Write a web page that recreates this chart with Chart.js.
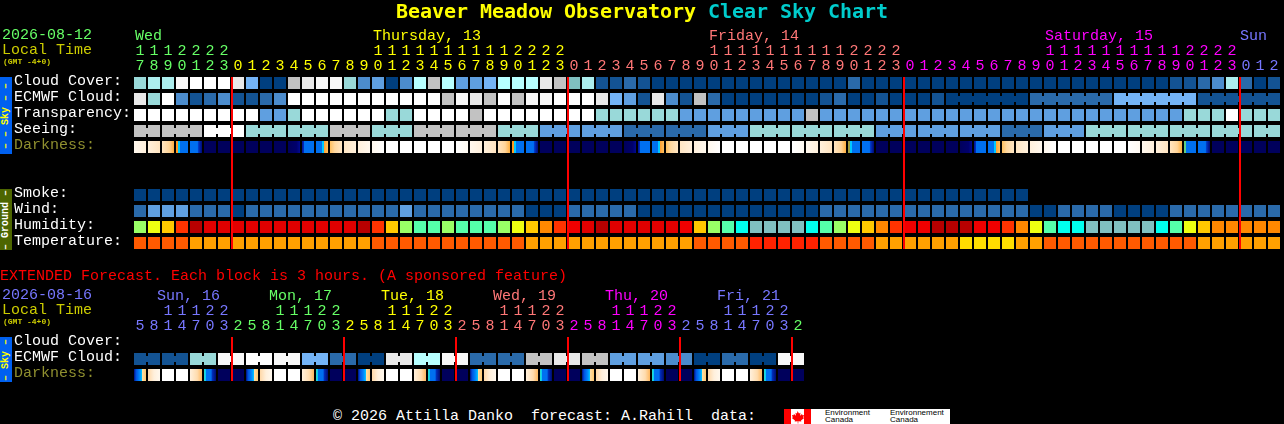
<!DOCTYPE html>
<html><head><meta charset="utf-8">
<script src="https://cdn.jsdelivr.net/npm/chart.js@4"></script>
<style>
html,body{margin:0;padding:0;background:#000;width:1284px;height:424px;overflow:hidden}
canvas{position:absolute;left:0}
.t{position:absolute;white-space:pre;font:15px/15px "Liberation Mono",monospace;letter-spacing:0}
.title{font:bold 20px/20px "DejaVu Sans Mono",monospace;letter-spacing:-0.04px}
.tab{position:absolute;left:0;width:12px;color:#ffff00;font:bold 10px/12px "Liberation Mono",monospace;text-align:center;writing-mode:vertical-rl;transform:rotate(180deg);white-space:pre}
.gmt{font:bold 8px/8px "Liberation Mono",monospace;color:#cccc00}
#ec{position:absolute;left:784px;top:409px;width:166px;height:15px;background:#fff;overflow:hidden}
#ec span{position:absolute;color:#000;font:8px/7px "Liberation Sans",sans-serif;white-space:pre}
</style></head><body>
<canvas id="main" width="1284" height="270" style="top:0"></canvas>
<canvas id="ext" width="1284" height="125" style="top:270px"></canvas>

<div class="t title" style="left:396px;top:1px;color:#ffff00">Beaver Meadow Observatory <span style="color:#00cccc">Clear Sky Chart</span></div>
<div class="t" style="left:2px;top:28px;color:#66ff66">2026-08-12</div>
<div class="t" style="left:2px;top:43px;color:#cccc00">Local Time</div>
<div class="t gmt" style="left:3px;top:58px">(GMT -4+0)</div>
<div class="tab" style="top:77px;height:77px;background:#0060f0">– – Sky – –</div>
<div class="tab" style="top:189px;height:61px;background:#4d6600;color:#fff">– Ground –</div>
<div class="t" style="left:0;top:269px;color:#ff0000">EXTENDED Forecast. Each block is 3 hours. (A sponsored feature)</div>
<div class="t" style="left:2px;top:288px;color:#7777ff">2026-08-16</div>
<div class="t" style="left:2px;top:303px;color:#cccc00">Local Time</div>
<div class="t gmt" style="left:3px;top:318px">(GMT -4+0)</div>
<div class="tab" style="top:337px;height:45px;background:#0060f0">– Sky –</div>
<div class="t" style="left:333px;top:409px;color:#fff">© 2026 Attilla Danko  forecast: A.Rahill  data:</div>
<div id="ec">
<svg width="27" height="15" style="position:absolute;left:0;top:0"><rect width="7" height="15" fill="#f00"/><rect x="20" width="7" height="15" fill="#f00"/><path d="M13.5 2l1.5 2.5 1.5-.7-.5 3 2-1.8.5 1.3 1.5-.3-.8 2.4 1 .6-3.2 2.4.3 1.2-3-.4v2.3h-.6v-2.3l-3 .4.3-1.2-3.2-2.4 1-.6-.8-2.4 1.5.3.5-1.3 2 1.8-.5-3 1.5.7z" fill="#f00"/></svg>
<span style="left:41px;top:0">Environment
Canada</span><span style="left:106px;top:0">Environnement
Canada</span></div>

<script>
// ---- categories ----
const mainHours = [17,18,19,20,21,22,23,
 0,1,2,3,4,5,6,7,8,9,10,11,12,13,14,15,16,17,18,19,20,21,22,23,
 0,1,2,3,4,5,6,7,8,9,10,11,12,13,14,15,16,17,18,19,20,21,22,23,
 0,1,2,3,4,5,6,7,8,9,10,11,12,13,14,15,16,17,18,19,20,21,22,23,
 0,1,2];
const extHours = [5,8,11,14,17,20,23,
 2,5,8,11,14,17,20,23, 2,5,8,11,14,17,20,23, 2,5,8,11,14,17,20,23,
 2,5,8,11,14,17,20,23, 2,5,8,11,14,17,20,23, 2];
const mainDayEnds = [7,31,55,79,82];
const mainDayColors = ['#66ff66','#ffff00','#ff7777','#ff00ff','#7777ff'];
const extDayEnds = [7,15,23,31,39,47,48];
const extDayColors = ['#7777ff','#66ff66','#ffff00','#ff7777','#ff00ff','#7777ff','#66ff66'];
const mainDayLabels = [['Wed',0,1],['Thursday, 13',17,1],['Friday, 14',41,1],['Saturday, 15',65,1],['Sun',79,0]];
const extDayLabels = [['Sun, 16',1,9],['Mon, 17',9,9],['Tue, 18',17,9],['Wed, 19',25,9],['Thu, 20',33,9],['Fri, 21',41,9]];
const mainRowLabels = ['Cloud Cover:','ECMWF Cloud:','Transparency:','Seeing:','Darkness:','','','Smoke:','Wind:','Humidity:','Temperature:'];
const extRowLabels = ['Cloud Cover:','ECMWF Cloud:','Darkness:'];
const mainMidnights = [7,31,55,79];
const extMidnights = [7,15,23,31,39,47];

// ---- series (sky condition level per block, see cloudPalette) ----
const cloudCover = [7,8,8,12,13,13,13,11,5,0,0,10,11,12,12,7,3,4,0,3,9,10,9,4,4,5,9,9,9,11,10,6,8,1,1,2,1,0,0,0,0,0,0,0,0,0,0,0,0,0,0,2,
 0,0,0,0,0,0,0,0,0,0,0,0,0,0,0,0,0,0,0,0,0,0,1,1,2,3,8,2,0,1];
const ecmwfCloud = [11,7,13,3,1,2,3,1,1,2,3,13,13,13,13,13,13,13,13,13,13,13,10,12,11,10,13,10,12,12,13,13,13,11,5,4,1,11,3,1,10,2,0,0,0,0,0,0,0,1,2,0,
 0,1,0,0,0,1,0,0,0,0,0,0,2,2,2,2,2,2,5,5,5,5,5,5,1,1,1,1,1,1];
const ecmwfSpans = [[58,63],[64,69],[70,75],[76,81]];
const transparency = [13,13,13,13,13,13,13,13,13,4,4,7,13,13,13,13,13,13,7,7,13,13,13,13,10,13,13,13,13,13,13,13,13,7,7,7,7,7,7,4,4,4,4,4,4,4,4,4,10,
 4,4,4,4,4,4,4,4,4,4,4,4,4,4,4,4,4,4,4,4,4,4,4,4,4,4,7,7,7,13,7,7,7];
const seeing = [10,10, 10,10,10, 13,13,13, 7,7,7, 7,7,7, 10,10,10, 7,7,7, 10,10,10, 10,10,10, 7,7,7, 4,4,4, 4,4,4, 2,2,2, 2,2,2, 4,4,4, 7,7,7, 7,7,7, 7,7,7,
 4,4,4, 4,4,4, 4,4,4, 2,2,2, 4,4,4, 7,7,7, 7,7,7, 7,7,7, 7,7,7, 7,7];
const seeingSpans = [[0,1],[2,4],[5,7],[8,10],[11,13],[14,16],[17,19],[20,22],[23,25],[26,28],[29,31],[32,34],[35,37],[38,40],[41,43],[44,46],[47,49],[50,52],[53,55],[56,58],[59,61],[62,64],[65,67],[68,70],[71,73],[74,76],[77,79],[80,81]];
const darkness = ['b','c','d','e','f','N','N','N','N','N','N','g','h','i','j','k','l','m','W','W','W','W','W','a',
 'b','c','d','e','f','N','N','N','N','N','N','g','h','i','j','k','l','m','W','W','W','W','W','a',
 'b','c','d','x','f','N','N','N','N','N','N','g','h','i','j','k','l','m','W','W','W','W','W','a',
 'b','c','d','y','f','N','N','N','N','N'];
const smoke = [0,0,0,0,0,0,0,0,0,0,0,0,0,0,0,0,0,0,0,0,0,0,0,0,0,0,0,0,0,0,0,0,0,0,0,0,0,0,0,0,0,0,0,0,0,0,0,0,0,0,0,0,0,0,0,0,0,0,0,0,0,0,0,0];
const wind = [2,4,4,4,2,2,2,0,2,2,2,2,2,2,2,2,2,2,2,4,2,2,2,2,2,2,2,2,0,0,0,2,2,2,2,2,0,0,0,0,0,0,0,0,0,0,0,0,0,2,2,2,
 2,2,2,2,2,2,2,2,2,2,2,2,0,0,2,2,2,2,0,0,0,0,2,2,2,2,2,2,2,2];
const humidity = [65,70,75,85,100,95,95,95,95,95,95,95,95,95,95,95,100,85,75,65,60,60,65,60,60,60,65,70,75,80,85,90,95,100,95,95,95,95,95,90,75,65,60,55,50,50,50,50,55,60,65,70,
 75,80,85,90,90,100,100,100,90,90,85,80,70,60,55,55,50,50,50,50,50,55,60,70,75,80,80,80,80,80];
const temperature = [23,23,23,23,19,19,19,19,19,19,19,19,19,19,19,19,19,23,23,23,23,23,23,23,23,23,23,23,19,19,19,19,19,19,19,19,19,19,19,19,23,23,23,23,28,28,28,28,28,23,23,23,
 23,19,19,19,19,19,19,16,16,16,16,19,19,23,23,23,23,23,23,23,23,23,23,23,19,19,19,19,19,19];
const extCloudCover = [];
const extEcmwf = [1,1,1,1,7,7,12,12,13,13,12,12,5,5,2,2,0,0,11,11,9,9,12,12,2,2,2,2,10,10,11,11,10,10,4,4,4,4,3,3,0,0,2,2,0,0,12,12];
const extEcmwfSpans = [[0,1],[2,3],[4,5],[6,7],[8,9],[10,11],[12,13],[14,15],[16,17],[18,19],[20,21],[22,23],[24,25],[26,27],[28,29],[30,31],[32,33],[34,35],[36,37],[38,39],[40,41],[42,43],[44,45],[46,47]];
const extDarkness = ['p','q','W','W','s','t','N','N','p','q','W','W','s','t','N','N','p','q','W','W','s','t','N','N','p','q','W','W','s','t','N','N','p','q','W','W','s','t','N','N','p','q','W','W','s','t','N','N'];

// ---- colour keys ----
const cloudPalette = ['#003f7f','#135393','#2a6aaa','#4c8ccc','#5f9fe0','#74b4f6','#80c0c0','#99d9d9','#aceeee','#b7ffff','#c2c2c2','#e9e9e9','#f8f8f8','#ffffff'];
const humidityColors = {100:'#b80000',95:'#e00000',90:'#f00000',85:'#ff3300',80:'#ff8800',75:'#ffc800',70:'#eeff11',65:'#99ff66',60:'#55ffaa',55:'#00ffee',50:'#80c0c0'};
const temperatureColors = {16:'#ffdd00',19:'#ffa000',23:'#ff5a00',28:'#ff2200'};
const darkStops = {
 W:[[0,'#ffffff'],[1,'#ffffff']], N:[[0,'#00005c'],[1,'#00005c']],
 a:[[0,'#ffffff'],[1,'#fffaf2']], b:[[0,'#fff8ee'],[1,'#fff0dc']], c:[[0,'#fff0dc'],[1,'#ffe4c0']],
 d:[[0,'#ffe4c0'],[.6,'#ffd498'],[1,'#ffb040']],
 e:[[0,'#ff9a20'],[.17,'#ff9a20'],[.18,'#00c8ff'],[.33,'#00c8ff'],[.34,'#0070f0'],[1,'#0070f0']],
 x:[[0,'#a0a040'],[.17,'#a0a040'],[.18,'#00c8ff'],[.33,'#00c8ff'],[.34,'#0070f0'],[1,'#0070f0']],
 y:[[0,'#60d080'],[.17,'#60d080'],[.18,'#0070f0'],[1,'#0070f0']],
 f:[[0,'#0070f0'],[.62,'#0070f0'],[.68,'#0040d0'],[.84,'#0020a0'],[1,'#000a78']],
 g:[[0,'#00005c'],[.7,'#00006c'],[1,'#000a90']],
 h:[[0,'#001090'],[.16,'#0030c0'],[.17,'#0070f0'],[1,'#0070f0']],
 i:[[0,'#0070f0'],[.49,'#0070f0'],[.5,'#00c8ff'],[.66,'#00c8ff'],[.67,'#ffa030'],[1,'#ffc060']],
 j:[[0,'#ffc060'],[.4,'#ffd8a0'],[1,'#ffe6c4']], k:[[0,'#ffe6c4'],[1,'#fff0dc']],
 l:[[0,'#fff0dc'],[1,'#fff8ee']], m:[[0,'#fff8ee'],[1,'#ffffff']],
 p:[[0,'#001080'],[.17,'#0050e0'],[.34,'#0070f0'],[.5,'#0090ff'],[.66,'#00c8ff'],[.67,'#ffe0a8'],[1,'#ffc870']],
 q:[[0,'#ffd8a8'],[.5,'#fff0dc'],[1,'#fff8ee']],
 s:[[0,'#fff0dc'],[.6,'#ffdcae'],[1,'#ffb860']],
 t:[[0,'#30e0c0'],[.16,'#00c8ff'],[.17,'#0070f0'],[.6,'#0070f0'],[.67,'#0030c0'],[1,'#000a70']]
};

// ---- geometry helpers in axis units (a row is 16px, a column 14px) ----
const HALF = 0.375, BRIDGE = 0.19, LINE_SHIFT = 1/14, LABEL_SHIFT = 2/16;
const hourLabel = h => h < 10 ? ['', String(h)] : [String(h)[0], String(h)[1]];

function bridgeData(spans, row){
  const out = [];
  spans.forEach(([a,b]) => { for (let i=a;i<b;i++) out.push({x:i+0.5, y:[row-BRIDGE,row+BRIDGE]}); });
  return out;
}
const gradientFill = (types) => ctx => {
  if (ctx.type !== 'data') return '#000';
  const chart = ctx.chart, sc = chart.scales.x;
  const cx = sc ? sc.getPixelForValue(ctx.dataIndex) : NaN;
  if (!isFinite(cx)) return '#000';
  const g = chart.ctx.createLinearGradient(cx-6,0,cx+6,0);
  darkStops[types[ctx.dataIndex]].forEach(([o,c]) => g.addColorStop(o,c));
  return g;
};
const dayTextPlugin = {
  id:'dayText',
  afterDraw(chart, args, opts){
    const c = chart.ctx, sc = chart.scales.x;
    c.save(); c.font = '15px "Liberation Mono",monospace'; c.textBaseline='alphabetic'; c.textAlign='left';
    opts.labels.forEach(([txt,col,dx],n) => {
      c.fillStyle = opts.colors[n];
      c.fillText(txt, sc.getPixelForValue(col)-6+dx, opts.y);
    });
    c.restore();
  }
};

function makeChart(id, cfg){
  const nCols = cfg.hours.length, nRows = cfg.rowLabels.length;
  const datasets = [];
  cfg.rows.forEach(r => {
    datasets.push({
      label:r.name, data:r.values.map(()=>[r.row-HALF,r.row+HALF]),
      backgroundColor:r.fill, order:3, xAxisID:'x', yAxisID:'y',
      grouped:false, barPercentage:12/14, categoryPercentage:1, borderWidth:0, inflateAmount:0
    });
    if (r.spans) datasets.push({
      label:r.name+' joins', data:bridgeData(r.spans,r.row),
      backgroundColor:r.spans.flatMap(([a,b])=>{const o=[];for(let i=a;i<b;i++)o.push(cloudPalette[r.values[i]]);return o;}),
      order:2, xAxisID:'x2', yAxisID:'y', grouped:false, barPercentage:1, categoryPercentage:1, maxBarThickness:2, borderWidth:0, inflateAmount:0
    });
  });
  datasets.push({
    label:'midnight', data:cfg.midnights.map(m=>({x:m-0.5, y:[-HALF,nRows-1+HALF]})),
    backgroundColor:'#ff0000', order:1, xAxisID:'x3', yAxisID:'y', grouped:false,
    barPercentage:1, categoryPercentage:1, maxBarThickness:2, borderWidth:0, inflateAmount:0
  });
  return new Chart(document.getElementById(id), {
    type:'bar',
    data:{labels:cfg.hours.map(hourLabel), datasets},
    plugins:[dayTextPlugin],
    options:{
      responsive:false, animation:false, devicePixelRatio:1, events:[],
      layout:{padding:{left:14,right:cfg.rightPad,top:0,bottom:cfg.bottomPad}},
      plugins:{legend:{display:false},tooltip:{enabled:false},title:{display:false},
        dayText:{labels:cfg.dayLabels, colors:cfg.dayLabelColors, y:cfg.dayY}},
      scales:{
        x:{type:'category',position:'top',offset:true,grid:{display:false},border:{display:false},
          afterFit(s){s.height=cfg.topPad;},
          ticks:{autoSkip:false,maxRotation:0,minRotation:0,padding:cfg.tickPad,
            font:{family:'"Liberation Mono",monospace',size:15,lineHeight:'15px'},
            color:c=>{const i=c.index; return cfg.dayColors[cfg.dayEnds.findIndex(e=>i<e)];}}},
        x2:{type:'linear',display:false,offset:false,min:-0.5,max:nCols-0.5},
        x3:{type:'linear',display:false,offset:false,min:-0.5-LINE_SHIFT,max:nCols-0.5-LINE_SHIFT},
        y:{type:'linear',display:false,reverse:true,min:-0.5,max:nRows-0.5},
        yLabels:{type:'linear',position:'left',reverse:true,min:-0.5+LABEL_SHIFT,max:nRows-0.5+LABEL_SHIFT,
          grid:{display:false},border:{display:false},
          afterFit(s){s.width=119;},
          afterBuildTicks(s){s.ticks=cfg.rowLabels.map((_,i)=>({value:i}));},
          ticks:{crossAlign:'far',padding:0,autoSkip:false,
            font:{family:'"Liberation Mono",monospace',size:15,lineHeight:'15px'},
            color:c=>cfg.rowLabels[c.index]==='Darkness:'?'#8f8f2f':'#ffffff',
            callback:v=>cfg.rowLabels[v]}}
      }
    }
  });
}
const pal = vals => vals.map(v=>cloudPalette[v]);

makeChart('main',{
  hours:mainHours, dayEnds:mainDayEnds, dayColors:mainDayColors, rowLabels:mainRowLabels,
  midnights:mainMidnights, dayLabels:mainDayLabels, dayLabelColors:mainDayColors, dayY:40,
  topPad:75, bottomPad:19, rightPad:3, tickPad:-7,
  rows:[
   {name:'Cloud Cover',row:0,values:cloudCover,fill:pal(cloudCover)},
   {name:'ECMWF Cloud',row:1,values:ecmwfCloud,fill:pal(ecmwfCloud),spans:ecmwfSpans},
   {name:'Transparency',row:2,values:transparency,fill:pal(transparency)},
   {name:'Seeing',row:3,values:seeing,fill:pal(seeing),spans:seeingSpans},
   {name:'Darkness',row:4,values:darkness,fill:gradientFill(darkness)},
   {name:'Smoke',row:7,values:smoke,fill:pal(smoke)},
   {name:'Wind',row:8,values:wind,fill:pal(wind)},
   {name:'Humidity',row:9,values:humidity,fill:humidity.map(v=>humidityColors[v])},
   {name:'Temperature',row:10,values:temperature,fill:temperature.map(v=>temperatureColors[v])}
  ]
});
makeChart('ext',{
  hours:extHours, dayEnds:extDayEnds, dayColors:extDayColors, rowLabels:extRowLabels,
  midnights:extMidnights, dayLabels:extDayLabels, dayLabelColors:extDayColors.slice(0,6), dayY:30,
  topPad:65, bottomPad:12, rightPad:1284-805, tickPad:-7,
  rows:[
   {name:'Cloud Cover',row:0,values:extCloudCover,fill:[]},
   {name:'ECMWF Cloud',row:1,values:extEcmwf,fill:pal(extEcmwf),spans:extEcmwfSpans},
   {name:'Darkness',row:2,values:extDarkness,fill:gradientFill(extDarkness)}
  ]
});
</script>
</body></html>
